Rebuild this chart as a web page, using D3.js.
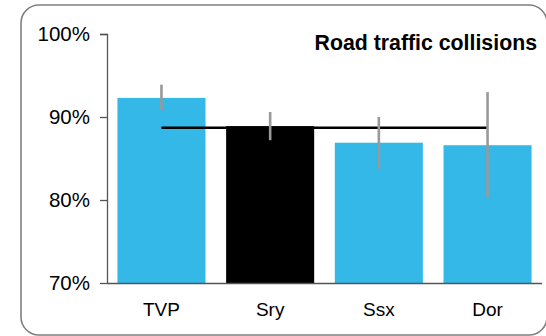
<!DOCTYPE html>
<html>
<head>
<meta charset="utf-8">
<script src="https://cdn.jsdelivr.net/npm/d3@7"></script>
<style>
  html, body { margin: 0; padding: 0; background: #fff; }
  svg { display: block; }
  text { font-family: "Liberation Sans", Arial, sans-serif; fill: #000; }
</style>
</head>
<body>
<svg id="chart" width="546" height="336"></svg>
<script>
const categories = ["TVP", "Sry", "Ssx", "Dor"];
const values = [92.3, 88.9, 86.9, 86.6];
const errLow = [90.8, 87.2, 83.7, 80.3];
const errHigh = [93.9, 90.6, 90.0, 93.0];
const average = 88.7;
const yTicks = [70, 80, 90, 100];
const highlight = "Sry";
const title = "Road traffic collisions";

const svg = d3.select("#chart");

// frame
svg.append("rect")
  .attr("x", 21).attr("y", 5)
  .attr("width", 526).attr("height", 330)
  .attr("rx", 18).attr("ry", 18)
  .attr("fill", "#fff")
  .attr("stroke", "#7f7f7f")
  .attr("stroke-width", 1.6);

const x = d3.scaleBand().domain(categories).range([107, 542])
  .paddingInner(0.19).paddingOuter(0.096);
const y = d3.scaleLinear().domain([70, 100]).range([283, 34]);

// bars
svg.append("g").selectAll("rect").data(categories).join("rect")
  .attr("x", d => x(d))
  .attr("y", (d, i) => y(values[i]))
  .attr("width", x.bandwidth())
  .attr("height", (d, i) => y(70) - y(values[i]))
  .attr("fill", d => d === highlight ? "#000" : "#33b8e8");

// average line
svg.append("line")
  .attr("x1", x(categories[0]) + x.bandwidth() / 2)
  .attr("x2", x(categories[categories.length - 1]) + x.bandwidth() / 2)
  .attr("y1", y(average)).attr("y2", y(average))
  .attr("stroke", "#000").attr("stroke-width", 2.6);

// error bars
svg.append("g").selectAll("line").data(categories).join("line")
  .attr("x1", d => x(d) + x.bandwidth() / 2)
  .attr("x2", d => x(d) + x.bandwidth() / 2)
  .attr("y1", (d, i) => y(errHigh[i]))
  .attr("y2", (d, i) => y(errLow[i]))
  .attr("stroke", "#999").attr("stroke-width", 2.6);

// y axis
const yAxis = svg.append("g").attr("transform", "translate(107,0)")
  .call(d3.axisLeft(y).tickValues(yTicks).tickFormat(d => d + "%").tickSize(7).tickPadding(10));
yAxis.selectAll("path, line").attr("stroke", "#555").attr("stroke-width", 1.3);
yAxis.select(".domain").attr("d", "M-7,34.5H0.5V283.5");
yAxis.selectAll("text").attr("font-size", 20.5).attr("font-family", "Liberation Sans, Arial, sans-serif").attr("fill", "#000");

// x axis
const xAxis = svg.append("g").attr("transform", "translate(0,283)")
  .call(d3.axisBottom(x).tickSize(0).tickPadding(20));
xAxis.select(".domain").attr("stroke", "#555").attr("stroke-width", 1.3).attr("d", "M107,0.5H542");
xAxis.selectAll("text").attr("font-size", 19).attr("font-family", "Liberation Sans, Arial, sans-serif").attr("fill", "#000");

// title
svg.append("text")
  .attr("x", 537).attr("y", 50)
  .attr("text-anchor", "end")
  .attr("font-size", 21.3)
  .attr("font-weight", "bold")
  .text(title);
</script>
</body>
</html>
